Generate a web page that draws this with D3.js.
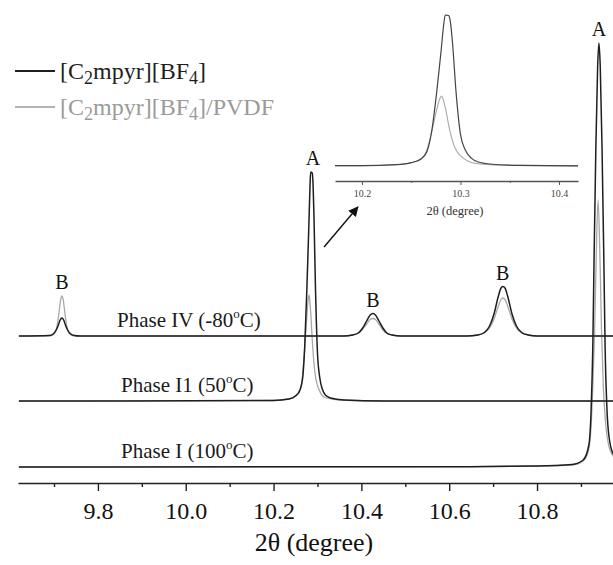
<!DOCTYPE html>
<html>
<head>
<meta charset="utf-8">
<script src="https://cdn.jsdelivr.net/npm/d3@7"></script>
<style>
  body { margin: 0; background: #fff; }
  svg { display: block; }
  text { font-family: "Liberation Serif", "Times New Roman", serif; }
</style>
</head>
<body>
<svg id="chart" width="613" height="565"></svg>
<script>
// intensities are in arbitrary units above each pattern's own baseline
var phaseNames = ["Phase IV (-80", "Phase I1 (50", "Phase I (100"];
var phaseOffsets = [131, 66, 0];   // vertical stacking of the three patterns

// Phase IV (-80 C)
var ivBlack = [[9.62,0],[9.69,0.5],[9.698,2],[9.705,6],[9.710,11],[9.714,16],[9.718,18],[9.722,16],[9.726,11],[9.731,6],[9.738,2],[9.746,0.5],[9.76,0],
  [10.36,0],[10.38,1],[10.393,3],[10.403,8],[10.412,15],[10.420,21],[10.426,22.5],[10.432,21],[10.440,15],[10.449,8],[10.458,3],[10.470,1],[10.49,0],
  [10.64,0],[10.665,1],[10.68,3.5],[10.692,10],[10.702,22],[10.712,40],[10.718,48],[10.722,49.5],[10.727,48],[10.733,40],[10.743,22],[10.753,10],[10.765,3.5],[10.78,1],[10.80,0],[11.0,0]];
var ivGray = [[9.62,0],[9.695,0.5],[9.702,3],[9.707,10],[9.711,22],[9.715,36],[9.718,40],[9.721,36],[9.725,22],[9.729,10],[9.734,3],[9.742,0.5],[9.76,0],
  [10.36,0],[10.38,1],[10.393,3],[10.403,7],[10.412,12],[10.420,16.5],[10.426,17.5],[10.432,16.5],[10.440,12],[10.449,6],[10.458,2.5],[10.470,1],[10.49,0],
  [10.64,0],[10.665,1],[10.68,3],[10.692,8],[10.702,17],[10.712,30],[10.718,36.5],[10.722,38],[10.727,36.5],[10.733,30],[10.743,17],[10.753,8],[10.765,3],[10.78,1],[10.80,0],[11.0,0]];

// Phase II (50 C)
var iiBlack = [[9.62,0],[10.20,0.5],[10.235,2],[10.25,5],[10.26,11],[10.266,22],[10.271,55],[10.276,114],[10.280,170],[10.283,215],[10.2845,229],
  [10.288,228],[10.290,216],[10.292,185],[10.2954,114],[10.300,48],[10.305,24],[10.311,12],[10.318,6],[10.33,3],[10.36,1],[10.45,0],[11.0,0]];
var iiGray = [[9.62,0],[10.20,0.5],[10.235,2],[10.25,5],[10.259,9],[10.2657,24],[10.271,53],[10.2758,85],[10.279,102],[10.281,106],[10.2843,90],
  [10.2893,53],[10.294,29],[10.2995,16],[10.3029,12],[10.3096,6],[10.32,3],[10.35,1],[10.45,0],[11.0,0]];

// Phase I (100 C)
var iBlack = [[9.62,0],[10.6,0.3],[10.8,1],[10.88,2.5],[10.905,7],[10.918,22],[10.923,55],[10.927,120],[10.930,212],[10.934,320],[10.938,400],[10.941,424],
  [10.944,400],[10.948,320],[10.952,212],[10.955,120],[10.959,60],[10.964,30],[10.975,12],[11.0,5]];
var iGray = [[9.62,0],[10.6,0.3],[10.8,1],[10.88,2],[10.905,6],[10.917,16],[10.923,40],[10.927,80],[10.931,134],[10.935,215],[10.939,267],
  [10.943,215],[10.947,134],[10.951,80],[10.956,45],[10.963,22],[10.975,10],[11.0,4]];

var blackSeries = [ivBlack, iiBlack, iBlack];
var graySeries = [ivGray, iiGray, iGray];

// peak labels: letter, 2theta, phase index, intensity of the higher trace
var peakText = ["B", "B", "B", "A", "A"];
var peakPos = [9.718, 10.426, 10.722, 10.29, 10.941];
var peakPhase = [0, 0, 0, 1, 2];
var peakTop = [40, 22.5, 49.5, 229, 424];

var majorTicks = [9.8, 10.0, 10.2, 10.4, 10.6, 10.8];
var minorTicks = [9.7, 9.9, 10.1, 10.3, 10.5, 10.7, 10.9];
var insetTicks = [10.2, 10.3, 10.4];
var insetMinor = [10.25, 10.35];

var svg = d3.select("#chart");

var x = d3.scaleLinear().domain([9.618, 10.973]).range([18, 613]);
var y = d3.scaleLinear().domain([0, 450]).range([467, 17]);

svg.append("clipPath").attr("id", "plotclip")
  .append("rect").attr("x", 0).attr("y", 0).attr("width", 613).attr("height", 482);

var plot = svg.append("g").attr("clip-path", "url(#plotclip)");

function drawSet(g, series, off, color, width, xs, ys) {
  var line = d3.line()
    .x(d => xs(d[0]))
    .y(d => ys(d[1] + off))
    .curve(d3.curveMonotoneX);
  g.append("path")
    .attr("d", line(series))
    .attr("fill", "none")
    .attr("stroke", color)
    .attr("stroke-width", width)
    .attr("stroke-linejoin", "round");
}

graySeries.forEach((s, i) => drawSet(plot, s, phaseOffsets[i], "#a8a8a8", 1.3, x, y));
blackSeries.forEach((s, i) => drawSet(plot, s, phaseOffsets[i], "#1e1e1e", 1.5, x, y));

// main x axis
var axisG = svg.append("g").attr("transform", "translate(0,483)");
axisG.call(d3.axisBottom(x).tickValues(majorTicks).tickFormat(d3.format(".1f"))
  .tickSize(8).tickSizeOuter(0).tickPadding(11));
axisG.selectAll("text").attr("font-size", 24).attr("font-family", "Liberation Serif").attr("fill", "#111");
axisG.select(".domain").attr("stroke-width", 1.6).attr("stroke", "#222");
axisG.selectAll(".tick line").attr("stroke-width", 1.4).attr("stroke", "#222");

var minorG = svg.append("g").attr("transform", "translate(0,483)");
minorG.call(d3.axisBottom(x).tickValues(minorTicks).tickFormat("").tickSize(4).tickSizeOuter(0));
minorG.select(".domain").remove();
minorG.selectAll(".tick line").attr("stroke-width", 1.4).attr("stroke", "#222");

svg.append("text")
  .attr("x", 314).attr("y", 551)
  .attr("text-anchor", "middle")
  .attr("font-size", 26)
  .attr("fill", "#111")
  .text("2\u03b8 (degree)");

// phase labels
var phaseLabelX = [117, 121, 121];
phaseNames.forEach((n, i) => {
  var t = svg.append("text")
    .attr("x", phaseLabelX[i]).attr("y", y(phaseOffsets[i]) - 9)
    .attr("font-size", 21).attr("fill", "#1a1a1a");
  t.append("tspan").text(n);
  t.append("tspan").attr("font-size", 13).attr("dy", -9).text("o");
  t.append("tspan").attr("dy", 9).text("C)");
});

// peak labels
peakText.forEach((p, i) => {
  svg.append("text")
    .attr("x", x(peakPos[i])).attr("y", y(peakTop[i] + phaseOffsets[peakPhase[i]]) - 7)
    .attr("text-anchor", "middle")
    .attr("font-size", 20).attr("fill", "#111")
    .text(p);
});

// arrow pointing at the inset
svg.append("defs").append("marker")
  .attr("id", "head").attr("viewBox", "0 0 10 10")
  .attr("refX", 9).attr("refY", 5)
  .attr("markerWidth", 10).attr("markerHeight", 10)
  .attr("markerUnits", "userSpaceOnUse")
  .attr("orient", "auto")
  .append("path").attr("d", "M0,0 L10,5 L0,10 Z").attr("fill", "#111");
svg.append("line")
  .attr("x1", x(10.315)).attr("y1", y(220))
  .attr("x2", x(10.392)).attr("y2", y(260))
  .attr("stroke", "#111").attr("stroke-width", 1.4)
  .attr("marker-end", "url(#head)");

// legend
var legendNames = [["[C", "2", "mpyr][BF", "4", "]"], ["[C", "2", "mpyr][BF", "4", "]/PVDF"]];
var legendColors = ["#1e1e1e", "#9a9a9a"];
legendNames.forEach((parts, i) => {
  var ly = 71 + i * 36;
  svg.append("line").attr("x1", 15).attr("x2", 55).attr("y1", ly).attr("y2", ly)
    .attr("stroke", legendColors[i]).attr("stroke-width", i == 0 ? 1.8 : 1.4);
  var t = svg.append("text").attr("x", 60).attr("y", ly + 8)
    .attr("font-size", 24).attr("fill", legendColors[i]);
  t.append("tspan").text(parts[0]);
  t.append("tspan").attr("font-size", 18).attr("dy", 5).text(parts[1]);
  t.append("tspan").attr("dy", -5).text(parts[2]);
  t.append("tspan").attr("font-size", 18).attr("dy", 5).text(parts[3]);
  t.append("tspan").attr("dy", -5).text(parts[4]);
});

// inset: zoom on the A peak of phase II
var xi = d3.scaleLinear().domain([10.1726, 10.4193]).range([335, 578]);
var yi = d3.scaleLinear().domain([0, 229]).range([166, 15]);
svg.append("clipPath").attr("id", "insetclip")
  .append("rect").attr("x", 335).attr("y", 0).attr("width", 243).attr("height", 180);
var inset = svg.append("g").attr("clip-path", "url(#insetclip)");
drawSet(inset, iiGray, 0, "#a8a8a8", 1.1, xi, yi);
drawSet(inset, iiBlack, 0, "#444", 1.2, xi, yi);

var insetAxis = svg.append("g").attr("transform", "translate(0,181)");
insetAxis.call(d3.axisBottom(xi).tickValues(insetTicks).tickFormat(d3.format(".1f"))
  .tickSize(4).tickSizeOuter(0).tickPadding(5));
insetAxis.selectAll("text").attr("font-size", 10).attr("font-family", "Liberation Serif").attr("fill", "#444");
insetAxis.select(".domain").attr("stroke-width", 1.5).attr("stroke", "#555");
insetAxis.selectAll(".tick line").attr("stroke", "#555");
var insetMinorG = svg.append("g").attr("transform", "translate(0,181)");
insetMinorG.call(d3.axisBottom(xi).tickValues(insetMinor).tickFormat("").tickSize(2).tickSizeOuter(0));
insetMinorG.select(".domain").remove();
insetMinorG.selectAll(".tick line").attr("stroke", "#555");

svg.append("text")
  .attr("x", 455).attr("y", 215)
  .attr("text-anchor", "middle")
  .attr("font-size", 12.5).attr("fill", "#333")
  .text("2\u03b8 (degree)");
</script>
</body>
</html>
